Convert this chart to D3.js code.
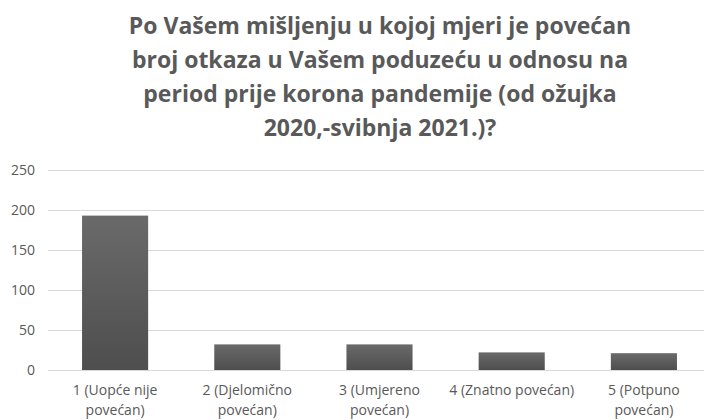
<!DOCTYPE html>
<html>
<head>
<meta charset="utf-8">
<script src="https://cdn.jsdelivr.net/npm/d3@7"></script>
<style>
  body { margin: 0; background: #fff; }
  text { font-family: "Open Sans", "Liberation Sans", sans-serif; fill: #595959; }
</style>
</head>
<body>
<div id="chart"></div>
<script>
// chart data
var titleLines = [
  "Po Vašem mišljenju u kojoj mjeri je povećan",
  "broj otkaza u Vašem poduzeću u odnosu na",
  "period prije korona pandemije (od ožujka",
  "2020,-svibnja 2021.)?"
];
var categories = [
  ["1 (Uopće nije", "povećan)"],
  ["2 (Djelomično", "povećan)"],
  ["3 (Umjereno", "povećan)"],
  ["4 (Znatno povećan)"],
  ["5 (Potpuno", "povećan)"]
];
var counts = [193, 32, 32, 22, 21];
var yTicks = [0, 50, 100, 150, 200, 250];

var width = 704, height = 420;

var svg = d3.select("#chart").append("svg").attr("width", width).attr("height", height);

// gradient for the bars, a bit lighter on top
var grad = svg.append("defs").append("linearGradient").attr("id", "barGrad")
    .attr("x1", 0).attr("y1", 0).attr("x2", 0).attr("y2", 1);
grad.append("stop").attr("offset", "0%").attr("stop-color", "#6a6a6a");
grad.append("stop").attr("offset", "100%").attr("stop-color", "#4e4e4e");

var xScale = d3.scaleBand().domain(d3.range(categories.length)).range([49, 710]).paddingInner(0.5).paddingOuter(0.25);
var yScale = d3.scaleLinear().domain([0, 250]).range([370, 170]);

// title
svg.append("g").selectAll("text").data(titleLines).enter().append("text")
    .attr("x", 380)
    .attr("y", function(d, i) { return 34 + i * 34; })
    .attr("text-anchor", "middle")
    .style("font-size", "23px")
    .style("font-weight", "bold")
    .text(function(d) { return d; });

// gridlines
svg.append("g").selectAll("line").data(yTicks).enter().append("line")
    .attr("x1", 48).attr("x2", 704)
    .attr("y1", function(d) { return yScale(d) + 0.5; })
    .attr("y2", function(d) { return yScale(d) + 0.5; })
    .attr("stroke", "#d9d9d9").attr("stroke-width", 1);

// y axis labels, drawn with d3 axis then stripped
var yAxis = d3.axisLeft(yScale).tickValues(yTicks).tickSize(0).tickPadding(0);
var yg = svg.append("g").attr("transform", "translate(35,0)").call(yAxis);
yg.select(".domain").remove();
yg.selectAll("text").style("font-size", "14px").attr("fill", "#595959").style("font-family", null);

// bars
svg.append("g").selectAll("rect").data(counts).enter().append("rect")
    .attr("x", function(d, i) { return xScale(i); })
    .attr("width", xScale.bandwidth())
    .attr("y", function(d) { return yScale(d); })
    .attr("height", function(d) { return yScale(0) - yScale(d); })
    .attr("fill", "url(#barGrad)");

// category labels
var catG = svg.append("g").selectAll("text").data(categories).enter().append("text")
    .attr("text-anchor", "middle")
    .style("font-size", "14px");
catG.selectAll("tspan").data(function(d, i) { return d.map(function(s) { return {s: s, i: i}; }); })
    .enter().append("tspan")
    .attr("x", function(d) { return xScale(d.i) + xScale.bandwidth() / 2; })
    .attr("y", function(d, j) { return 395 + j * 20; })
    .text(function(d) { return d.s; });
</script>
</body>
</html>
